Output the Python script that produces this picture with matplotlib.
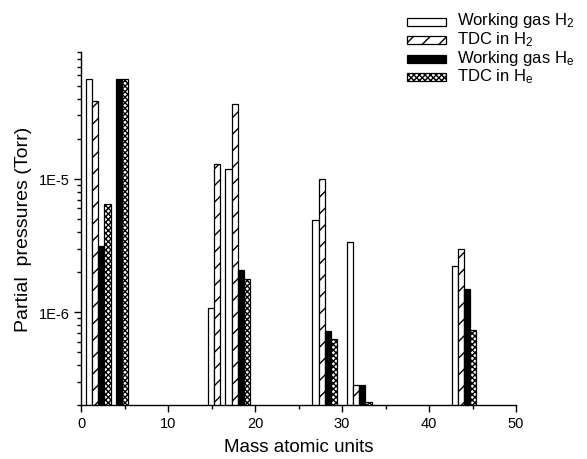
import numpy as np
import matplotlib
matplotlib.use("Agg")
import matplotlib.pyplot as plt
from matplotlib.patches import Rectangle
from matplotlib.ticker import FixedLocator, LogLocator, NullFormatter, FixedFormatter

plt.rcParams['font.family'] = ['Liberation Sans', 'DejaVu Sans']
plt.rcParams['mathtext.fontset'] = 'custom'
plt.rcParams['mathtext.rm'] = 'Liberation Sans'
plt.rcParams['mathtext.it'] = 'Liberation Sans:italic'
plt.rcParams['hatch.linewidth'] = 1.0

# ---- data ----
masses = [2, 4, 16, 18, 28, 32, 44]
working_h2 = [5.65e-5, np.nan, 1.08e-6, 1.18e-5, 4.95e-6, 3.35e-6, 2.2e-6]
tdc_h2 = [3.85e-5, np.nan, 1.3e-5, 3.65e-5, 1.0e-5, 2.8e-7, 3.0e-6]
working_he = [3.15e-6, 5.65e-5, np.nan, 2.08e-6, 7.2e-7, 2.8e-7, 1.5e-6]
tdc_he = [6.5e-6, 5.65e-5, np.nan, 1.78e-6, 6.3e-7, 2.1e-7, 7.3e-7]
series_labels = ['Working gas H$_2$', 'TDC in H$_2$', 'Working gas H$_\\mathrm{e}$', 'TDC in H$_\\mathrm{e}$']
x_ticks = [0, 10, 20, 30, 40, 50]
y_ticks = [1e-6, 1e-5]
y_ticklabels = ['1E-6', '1E-5']

fig = plt.figure(figsize=(5.87, 4.6), dpi=100)
ax = fig.add_axes([81/587, 1-406/460, (516-81)/587, (406-53)/460])

styles = [
    dict(facecolor='white', hatch=None),
    dict(facecolor='white', hatch='//'),
    dict(facecolor='black', hatch=None),
    dict(facecolor='white', hatch='xxxxxx'),
]
width = 0.7
offsets = [-1.05, -0.35, 0.35, 1.05]
m = np.array(masses, dtype=float)
for vals, st, off in zip([working_h2, tdc_h2, working_he, tdc_he], styles, offsets):
    v = np.array(vals, dtype=float)
    ok = ~np.isnan(v)
    ax.bar(m[ok] + off, v[ok], width=width, bottom=1e-9, facecolor=st['facecolor'],
           edgecolor='black', linewidth=0.9, hatch=st['hatch'])

ax.set_yscale('log')
ax.set_ylim(2e-7, 9e-5)
ax.set_xlim(0, 50)

ax.yaxis.set_major_locator(FixedLocator(y_ticks))
ax.yaxis.set_major_formatter(FixedFormatter(y_ticklabels))
ax.yaxis.set_minor_locator(LogLocator(base=10, subs=np.arange(2, 10), numticks=20))
ax.yaxis.set_minor_formatter(NullFormatter())
ax.xaxis.set_major_locator(FixedLocator(x_ticks))
ax.xaxis.set_minor_locator(FixedLocator([5, 15, 25, 35, 45]))

for s in ['top', 'right']:
    ax.spines[s].set_visible(False)
for s in ['left', 'bottom']:
    ax.spines[s].set_linewidth(1.0)

ax.tick_params(axis='both', which='major', direction='out', length=5, width=1.0,
               labelsize=10.5, pad=3)
ax.tick_params(axis='both', which='minor', direction='out', length=3, width=1.0)

ax.set_xlabel('Mass atomic units', fontsize=13.5, labelpad=6)
ax.set_ylabel('Partial  pressures (Torr)', fontsize=14, labelpad=5)

# legend drawn at figure coordinates
W, H = 587, 460
baselines = [25.5, 44, 62.5, 81]
for yb, st, lab in zip(baselines, styles, series_labels):
    yc = yb - 3
    r = Rectangle((407/W, 1-(yc+4)/H), 39/W, 8/H, transform=fig.transFigure,
                  facecolor=st['facecolor'], edgecolor='black', linewidth=0.9,
                  hatch=st['hatch'])
    fig.add_artist(r)
    fig.text(457/W, 1-yb/H, lab, fontsize=12, va='baseline', ha='left')

fig.savefig('out.png', dpi=100)
